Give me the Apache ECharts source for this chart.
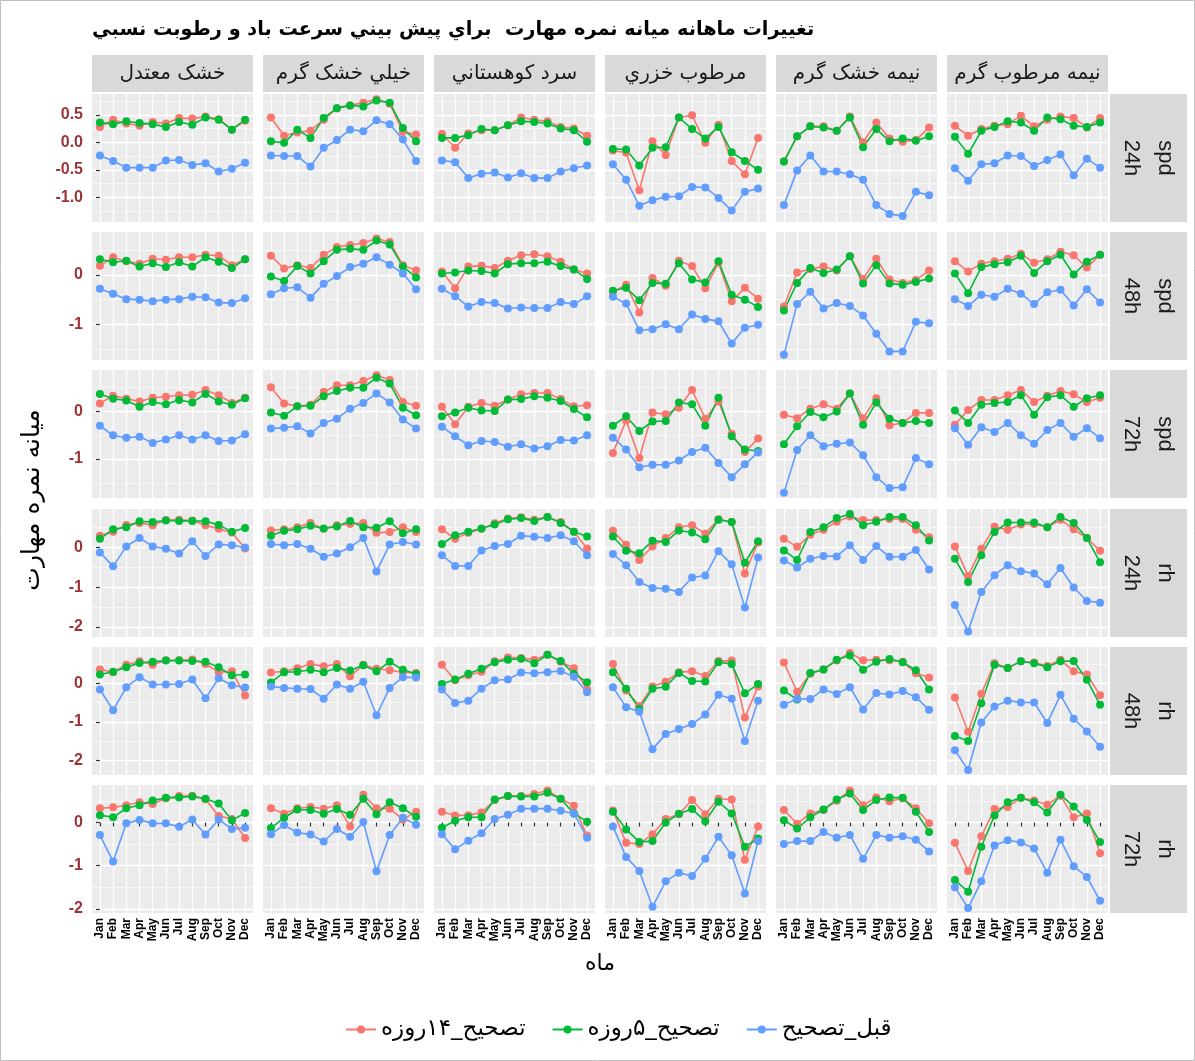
<!DOCTYPE html>
<html lang="fa">
<head>
  <meta charset="UTF-8" />
  <title>تغییرات ماهانه میانه نمره مهارت</title>
  <script src="https://cdn.jsdelivr.net/npm/echarts@6/dist/echarts.min.js"></script>
  <style>
    html, body { margin: 0; background: #fff; overflow: hidden; }
    #main { width: 1195px; height: 1061px; }
  </style>
</head>
<body>
  <div id="main"></div>
  <script>
    const months = ['Jan', 'Feb', 'Mar', 'Apr', 'May', 'Jun', 'Jul', 'Aug', 'Sep', 'Oct', 'Nov', 'Dec'];
    const regions = ['خشک معتدل', 'خيلي خشک گرم', 'سرد کوهستاني', 'مرطوب خزري', 'نيمه خشک گرم', 'نيمه مرطوب گرم'];
    const leadTimes = ['24h', '48h', '72h', '24h', '48h', '72h'];
    const variables = ['spd', 'spd', 'spd', 'rh', 'rh', 'rh'];
    const seriesNames = ['تصحیح_۱۴روزه', 'تصحیح_۵روزه', 'قبل_تصحیح'];

    // y tick labels per facet row
    const majorTicks = [[0.5, 0, -0.5, -1], [0, -1], [0, -1], [0, -1, -2], [0, -1, -2], [0, -1, -2]];
    const minorTicks = [[0.75, 0.25, -0.25, -0.75, -1.25], [0.5, -0.5, -1.5], [0.5, -0.5, -1.5],
                        [0.5, -0.5, -1.5], [0.5, -0.5, -1.5], [0.5, -0.5, -1.5]];

    // ---- spd 24h ----
    const spd24_c14 = [
      [0.28, 0.41, 0.34, 0.30, 0.37, 0.34, 0.44, 0.43, 0.47, 0.42, 0.23, 0.39],
      [0.45, 0.12, 0.18, 0.21, 0.41, 0.62, 0.67, 0.72, 0.78, 0.70, 0.19, 0.14],
      [0.15, -0.10, 0.16, 0.22, 0.22, 0.31, 0.45, 0.41, 0.38, 0.28, 0.25, 0.12],
      [-0.15, -0.19, -0.87, 0.02, -0.23, 0.45, 0.49, -0.01, 0.32, -0.34, -0.58, 0.08],
      [-0.35, 0.11, 0.29, 0.29, 0.21, 0.47, 0.00, 0.36, 0.07, 0.01, 0.04, 0.27],
      [0.30, 0.12, 0.24, 0.30, 0.33, 0.48, 0.29, 0.41, 0.47, 0.44, 0.27, 0.44]
    ];
    const spd24_c5 = [
      [0.36, 0.33, 0.38, 0.35, 0.33, 0.28, 0.37, 0.32, 0.45, 0.41, 0.23, 0.41],
      [0.02, -0.01, 0.23, 0.08, 0.44, 0.62, 0.67, 0.65, 0.76, 0.72, 0.26, 0.02],
      [0.08, 0.08, 0.13, 0.24, 0.22, 0.31, 0.38, 0.37, 0.34, 0.25, 0.22, 0.01],
      [-0.12, -0.13, -0.42, -0.10, -0.09, 0.45, 0.24, 0.07, 0.28, -0.18, -0.34, -0.50],
      [-0.35, 0.11, 0.29, 0.27, 0.21, 0.45, -0.09, 0.24, 0.02, 0.07, 0.03, 0.11],
      [0.10, -0.21, 0.21, 0.28, 0.38, 0.36, 0.21, 0.45, 0.42, 0.30, 0.28, 0.36]
    ];
    const spd24_raw = [
      [-0.24, -0.34, -0.46, -0.46, -0.46, -0.33, -0.32, -0.41, -0.38, -0.53, -0.48, -0.37],
      [-0.24, -0.25, -0.25, -0.44, -0.10, 0.04, 0.23, 0.20, 0.40, 0.33, 0.05, -0.34],
      [-0.33, -0.36, -0.65, -0.57, -0.55, -0.64, -0.56, -0.65, -0.65, -0.53, -0.47, -0.42],
      [-0.40, -0.68, -1.15, -1.05, -0.99, -0.98, -0.81, -0.82, -1.01, -1.24, -0.90, -0.84],
      [-1.14, -0.51, -0.24, -0.53, -0.53, -0.58, -0.68, -1.14, -1.30, -1.34, -0.90, -0.96],
      [-0.47, -0.70, -0.40, -0.38, -0.24, -0.25, -0.43, -0.32, -0.22, -0.60, -0.30, -0.46]
    ];

    // ---- spd 48h ----
    const spd48_c14 = [
      [0.19, 0.36, 0.28, 0.23, 0.33, 0.31, 0.36, 0.36, 0.41, 0.39, 0.20, 0.32],
      [0.39, 0.13, 0.20, 0.14, 0.41, 0.57, 0.61, 0.65, 0.74, 0.67, 0.20, 0.09],
      [0.07, -0.27, 0.17, 0.19, 0.14, 0.29, 0.40, 0.42, 0.38, 0.27, 0.11, 0.03],
      [-0.34, -0.20, -0.76, -0.06, -0.22, 0.29, 0.18, -0.27, 0.25, -0.53, -0.26, -0.48],
      [-0.64, 0.05, 0.12, 0.17, 0.09, 0.38, -0.08, 0.33, -0.09, -0.16, -0.10, 0.09],
      [0.28, 0.07, 0.23, 0.28, 0.33, 0.43, 0.25, 0.32, 0.47, 0.40, 0.15, 0.41]
    ];
    const spd48_c5 = [
      [0.32, 0.26, 0.29, 0.17, 0.24, 0.16, 0.26, 0.17, 0.36, 0.27, 0.14, 0.32],
      [-0.03, -0.12, 0.18, 0.03, 0.28, 0.51, 0.53, 0.51, 0.70, 0.62, 0.17, -0.05],
      [0.03, 0.05, 0.09, 0.08, 0.03, 0.22, 0.24, 0.24, 0.27, 0.18, 0.11, -0.08],
      [-0.32, -0.26, -0.51, -0.16, -0.18, 0.24, -0.09, -0.15, 0.28, -0.40, -0.50, -0.65],
      [-0.72, -0.16, 0.14, 0.04, 0.11, 0.38, -0.17, 0.20, -0.17, -0.20, -0.14, -0.07],
      [0.03, -0.37, 0.16, 0.22, 0.26, 0.39, 0.04, 0.28, 0.41, 0.01, 0.27, 0.41]
    ];
    const spd48_raw = [
      [-0.28, -0.38, -0.49, -0.50, -0.53, -0.50, -0.49, -0.44, -0.45, -0.56, -0.57, -0.47],
      [-0.39, -0.27, -0.25, -0.46, -0.18, -0.02, 0.16, 0.23, 0.36, 0.21, 0.03, -0.29],
      [-0.28, -0.43, -0.64, -0.55, -0.57, -0.68, -0.66, -0.67, -0.67, -0.55, -0.59, -0.43],
      [-0.44, -0.58, -1.12, -1.10, -1.00, -1.10, -0.80, -0.89, -0.94, -1.39, -1.07, -1.01],
      [-1.62, -0.59, -0.34, -0.68, -0.57, -0.63, -0.82, -1.19, -1.55, -1.55, -0.95, -0.98],
      [-0.49, -0.63, -0.40, -0.44, -0.28, -0.38, -0.59, -0.35, -0.30, -0.62, -0.29, -0.56]
    ];

    // ---- spd 72h ----
    const spd72_c14 = [
      [0.17, 0.33, 0.27, 0.21, 0.29, 0.31, 0.34, 0.35, 0.45, 0.34, 0.18, 0.29],
      [0.51, 0.17, 0.11, 0.14, 0.41, 0.55, 0.55, 0.64, 0.76, 0.66, 0.20, 0.12],
      [0.10, -0.27, 0.10, 0.18, 0.12, 0.25, 0.36, 0.39, 0.39, 0.26, 0.11, 0.13],
      [-0.87, -0.19, -0.98, -0.02, -0.06, 0.08, 0.45, -0.15, 0.21, -0.47, -0.85, -0.57],
      [-0.07, -0.14, 0.06, 0.15, 0.06, 0.38, -0.14, 0.28, -0.29, -0.24, -0.03, -0.03],
      [-0.28, 0.03, 0.24, 0.24, 0.34, 0.45, 0.20, 0.33, 0.43, 0.36, 0.20, 0.29]
    ];
    const spd72_c5 = [
      [0.37, 0.27, 0.23, 0.10, 0.20, 0.15, 0.24, 0.19, 0.37, 0.21, 0.14, 0.28],
      [-0.02, -0.09, 0.11, 0.12, 0.32, 0.43, 0.50, 0.50, 0.71, 0.59, 0.08, -0.08],
      [-0.10, -0.02, 0.08, 0.02, 0.01, 0.25, 0.26, 0.32, 0.29, 0.22, 0.05, -0.12],
      [-0.30, -0.10, -0.41, -0.21, -0.20, 0.19, 0.15, -0.30, 0.29, -0.52, -0.80, -0.83],
      [-0.69, -0.31, -0.01, -0.12, 0.00, 0.38, -0.28, 0.19, -0.15, -0.24, -0.20, -0.24],
      [0.02, -0.24, 0.14, 0.18, 0.20, 0.34, -0.07, 0.30, 0.34, 0.10, 0.28, 0.34]
    ];
    const spd72_raw = [
      [-0.30, -0.50, -0.55, -0.53, -0.66, -0.59, -0.50, -0.59, -0.50, -0.62, -0.61, -0.48],
      [-0.36, -0.34, -0.31, -0.46, -0.24, -0.15, 0.06, 0.18, 0.38, 0.19, -0.17, -0.36],
      [-0.32, -0.52, -0.71, -0.62, -0.64, -0.74, -0.69, -0.78, -0.73, -0.60, -0.61, -0.50],
      [-0.55, -0.80, -1.17, -1.12, -1.12, -1.03, -0.85, -0.76, -1.08, -1.38, -1.11, -0.86],
      [-1.71, -0.81, -0.50, -0.73, -0.68, -0.65, -0.92, -1.38, -1.61, -1.59, -0.98, -1.11],
      [-0.35, -0.70, -0.33, -0.43, -0.24, -0.50, -0.68, -0.39, -0.24, -0.53, -0.35, -0.56]
    ];

    // ---- rh 24h ----
    const rh24_c14 = [
      [0.29, 0.39, 0.56, 0.61, 0.55, 0.68, 0.69, 0.67, 0.55, 0.46, 0.37, -0.03],
      [0.42, 0.45, 0.50, 0.61, 0.46, 0.55, 0.58, 0.61, 0.36, 0.38, 0.50, 0.38],
      [0.45, 0.21, 0.36, 0.46, 0.60, 0.72, 0.75, 0.69, 0.76, 0.63, 0.39, -0.03],
      [0.41, 0.06, -0.32, 0.02, 0.23, 0.50, 0.55, 0.34, 0.70, 0.63, -0.66, 0.12],
      [0.21, 0.01, 0.31, 0.44, 0.64, 0.77, 0.68, 0.68, 0.71, 0.71, 0.44, 0.25],
      [0.02, -0.72, -0.04, 0.51, 0.44, 0.57, 0.58, 0.50, 0.69, 0.45, 0.23, -0.09]
    ];
    const rh24_c5 = [
      [0.21, 0.45, 0.50, 0.65, 0.63, 0.67, 0.66, 0.66, 0.65, 0.56, 0.39, 0.48],
      [0.29, 0.41, 0.45, 0.54, 0.47, 0.52, 0.66, 0.50, 0.49, 0.65, 0.35, 0.45],
      [0.08, 0.30, 0.39, 0.47, 0.57, 0.70, 0.73, 0.66, 0.76, 0.61, 0.39, 0.27],
      [0.27, -0.09, -0.15, 0.16, 0.13, 0.42, 0.37, 0.20, 0.69, 0.63, -0.39, 0.15],
      [-0.08, -0.32, 0.38, 0.50, 0.73, 0.83, 0.55, 0.64, 0.76, 0.76, 0.55, 0.17],
      [-0.29, -0.87, -0.20, 0.38, 0.62, 0.62, 0.62, 0.50, 0.76, 0.61, 0.23, -0.38]
    ];
    const rh24_raw = [
      [-0.13, -0.48, 0.02, 0.23, 0.02, -0.04, -0.16, 0.15, -0.22, 0.07, 0.05, -0.01],
      [0.08, 0.05, 0.08, -0.04, -0.24, -0.16, 0.00, 0.23, -0.61, 0.07, 0.13, 0.07],
      [-0.20, -0.47, -0.47, -0.08, 0.03, 0.08, 0.29, 0.26, 0.23, 0.30, 0.15, -0.20],
      [-0.17, -0.45, -0.87, -1.02, -1.04, -1.12, -0.76, -0.71, -0.10, -0.43, -1.51, -0.26],
      [-0.33, -0.51, -0.29, -0.22, -0.23, 0.05, -0.32, 0.03, -0.24, -0.24, -0.07, -0.56],
      [-1.45, -2.11, -1.12, -0.70, -0.45, -0.60, -0.66, -0.93, -0.52, -1.01, -1.35, -1.39]
    ];

    // ---- rh 48h ----
    const rh48_c14 = [
      [0.36, 0.29, 0.48, 0.57, 0.48, 0.60, 0.60, 0.62, 0.50, 0.29, 0.31, -0.32],
      [0.28, 0.31, 0.39, 0.50, 0.44, 0.50, 0.18, 0.48, 0.38, 0.34, 0.29, 0.27],
      [0.48, 0.08, 0.21, 0.30, 0.57, 0.67, 0.66, 0.61, 0.74, 0.56, 0.39, -0.16],
      [0.50, -0.19, -0.59, -0.08, 0.04, 0.29, 0.31, 0.19, 0.58, 0.59, -0.89, -0.08],
      [0.54, -0.22, 0.25, 0.36, 0.59, 0.79, 0.60, 0.61, 0.60, 0.56, 0.26, 0.15],
      [-0.37, -1.26, -0.27, 0.52, 0.40, 0.57, 0.54, 0.45, 0.61, 0.31, 0.23, -0.31]
    ];
    const rh48_c5 = [
      [0.23, 0.30, 0.42, 0.53, 0.56, 0.59, 0.59, 0.58, 0.56, 0.42, 0.21, 0.23],
      [0.02, 0.29, 0.30, 0.35, 0.29, 0.40, 0.33, 0.47, 0.31, 0.56, 0.35, 0.24],
      [-0.02, 0.10, 0.25, 0.38, 0.55, 0.61, 0.64, 0.52, 0.74, 0.58, 0.25, 0.03],
      [0.29, -0.14, -0.66, -0.14, -0.09, 0.27, 0.06, 0.05, 0.55, 0.50, -0.26, -0.02],
      [-0.19, -0.42, 0.27, 0.36, 0.61, 0.72, 0.35, 0.56, 0.63, 0.55, 0.34, -0.16],
      [-1.37, -1.50, -0.52, 0.48, 0.40, 0.57, 0.52, 0.42, 0.57, 0.58, 0.09, -0.56]
    ];
    const rh48_raw = [
      [-0.16, -0.70, -0.10, 0.16, -0.03, -0.03, -0.02, 0.10, -0.39, 0.13, -0.05, -0.11],
      [-0.08, -0.12, -0.14, -0.15, -0.40, -0.03, -0.14, 0.04, -0.83, -0.12, 0.16, 0.15],
      [-0.16, -0.51, -0.45, -0.14, 0.08, 0.10, 0.28, 0.26, 0.29, 0.32, 0.17, -0.23],
      [-0.10, -0.62, -0.74, -1.71, -1.32, -1.19, -1.06, -0.81, -0.30, -0.40, -1.50, -0.45],
      [-0.56, -0.40, -0.41, -0.16, -0.28, -0.10, -0.68, -0.25, -0.29, -0.20, -0.36, -0.69],
      [-1.74, -2.25, -1.02, -0.60, -0.45, -0.50, -0.50, -1.03, -0.30, -0.92, -1.25, -1.65]
    ];

    // ---- rh 72h ----
    const rh72_c14 = [
      [0.33, 0.35, 0.40, 0.47, 0.43, 0.56, 0.61, 0.62, 0.54, 0.15, 0.08, -0.36],
      [0.33, 0.20, 0.33, 0.36, 0.32, 0.40, -0.09, 0.64, 0.33, 0.32, 0.07, 0.25],
      [0.25, 0.16, 0.17, 0.23, 0.52, 0.61, 0.61, 0.66, 0.74, 0.55, 0.39, -0.30],
      [0.28, -0.47, -0.50, -0.27, 0.08, 0.19, 0.52, 0.19, 0.55, 0.53, -0.86, -0.09],
      [0.29, -0.03, 0.21, 0.29, 0.50, 0.74, 0.40, 0.58, 0.49, 0.56, 0.33, -0.02],
      [-0.47, -1.12, -0.32, 0.31, 0.36, 0.57, 0.51, 0.41, 0.62, 0.12, 0.21, -0.71]
    ];
    const rh72_c5 = [
      [0.17, 0.12, 0.33, 0.40, 0.51, 0.57, 0.58, 0.60, 0.55, 0.44, 0.05, 0.22],
      [-0.13, 0.11, 0.30, 0.29, 0.20, 0.31, 0.18, 0.55, 0.19, 0.47, 0.33, 0.13],
      [-0.12, 0.04, 0.12, 0.12, 0.53, 0.61, 0.60, 0.60, 0.69, 0.55, 0.21, 0.02],
      [0.25, -0.16, -0.45, -0.43, 0.00, 0.20, 0.31, 0.03, 0.48, 0.21, -0.56, -0.37],
      [0.05, -0.14, 0.12, 0.30, 0.53, 0.67, 0.29, 0.52, 0.58, 0.57, 0.25, -0.22],
      [-1.33, -1.60, -0.56, 0.16, 0.47, 0.57, 0.47, 0.23, 0.64, 0.37, 0.06, -0.45]
    ];
    const rh72_raw = [
      [-0.29, -0.90, -0.02, 0.06, -0.02, -0.02, -0.10, 0.07, -0.28, 0.07, -0.15, -0.12],
      [-0.27, -0.06, -0.23, -0.28, -0.44, -0.15, -0.33, 0.01, -1.13, -0.29, 0.11, -0.05],
      [-0.27, -0.62, -0.42, -0.25, 0.08, 0.18, 0.32, 0.32, 0.32, 0.27, 0.21, -0.35],
      [-0.09, -0.80, -1.12, -1.95, -1.36, -1.16, -1.24, -0.84, -0.33, -0.76, -1.64, -0.43],
      [-0.50, -0.43, -0.43, -0.22, -0.35, -0.29, -0.84, -0.29, -0.35, -0.32, -0.40, -0.67],
      [-1.50, -1.98, -1.36, -0.53, -0.41, -0.46, -0.60, -1.16, -0.40, -1.01, -1.26, -1.81]
    ];

    const rowData = [
      [spd24_c14, spd24_c5, spd24_raw],
      [spd48_c14, spd48_c5, spd48_raw],
      [spd72_c14, spd72_c5, spd72_raw],
      [rh24_c14, rh24_c5, rh24_raw],
      [rh48_c14, rh48_c5, rh48_raw],
      [rh72_c14, rh72_c5, rh72_raw]
    ];

    // layout
    const colors = ['#F8766D', '#00BA38', '#619CFF'];
    const colLeft = [92, 263, 434, 605, 776, 947];
    const rowTop = [94, 232, 370, 509, 647, 785];
    const panelW = 161, panelH = 128;
    const yRange = [[-1.447, 0.877], [-1.724, 0.872], [-1.818, 0.872], [-2.251, 0.958], [-2.382, 0.943], [-2.093, 0.867]];
    const monthIdx = months.map((m, i) => i);
    const latin = '"Liberation Sans", Arial, "DejaVu Sans", sans-serif';

    const grids = [], xAxes = [], yAxes = [], minorAxes = [], series = [], graphics = [];

    for (let r = 0; r < 6; r++) {
      for (let c = 0; c < 6; c++) {
        const gi = r * 6 + c;
        grids.push({
          left: colLeft[c], top: rowTop[r], width: panelW, height: panelH,
          show: true, backgroundColor: '#EBEBEB', borderWidth: 0
        });
        xAxes.push({
          type: 'value', gridIndex: gi, min: -0.6, max: 11.6,
          axisLine: { show: false },
          axisTick: { show: r === 5, customValues: monthIdx, length: 4, lineStyle: { color: '#333', width: 1.2 } },
          axisLabel: {
            show: r === 5, customValues: monthIdx, formatter: v => months[Math.round(v)],
            rotate: 90, fontSize: 12, fontWeight: 'bold', color: '#000', margin: 5, fontFamily: latin
          },
          splitLine: { show: true, lineStyle: { color: '#fff', width: 1.3 } }
        });
        yAxes.push({
          type: 'value', gridIndex: gi, min: yRange[r][0], max: yRange[r][1],
          axisLine: { show: false },
          axisTick: { show: c === 0, customValues: majorTicks[r], length: 4, lineStyle: { color: '#333', width: 1.2 } },
          axisLabel: {
            show: c === 0, customValues: majorTicks[r],
            formatter: v => (r === 0 ? v.toFixed(1) : String(Math.round(v))),
            fontSize: 16, fontWeight: 'bold', color: '#9B3535', margin: 9, fontFamily: latin
          },
          splitLine: { show: true, lineStyle: { color: '#fff', width: 1.3 } }
        });
        minorAxes.push({
          type: 'value', gridIndex: gi, min: yRange[r][0], max: yRange[r][1], position: 'left',
          axisLine: { show: false },
          axisTick: { show: false, customValues: minorTicks[r] },
          axisLabel: { show: false, customValues: minorTicks[r] },
          splitLine: { show: true, lineStyle: { color: '#fff', width: 0.6 } }
        });
        for (let s = 0; s < 3; s++) {
          series.push({
            type: 'line', name: seriesNames[s], xAxisIndex: gi, yAxisIndex: gi,
            data: rowData[r][s][c].map((v, i) => [i, v]),
            symbol: 'circle', symbolSize: 8,
            lineStyle: { color: colors[s], width: 1.6 },
            itemStyle: { color: colors[s] },
            silent: true, animation: false
          });
        }
      }
    }

    // top strips
    for (let c = 0; c < 6; c++) {
      graphics.push({
        type: 'rect', shape: { x: colLeft[c], y: 55, width: panelW, height: 37 },
        style: { fill: '#D9D9D9' }, silent: true
      });
      graphics.push({
        type: 'text', x: colLeft[c] + panelW / 2, y: 74,
        style: { text: regions[c], fill: '#1A1A1A', font: '20px "DejaVu Sans", sans-serif',
                 textAlign: 'center', textVerticalAlign: 'middle', align: 'center', verticalAlign: 'middle' },
        silent: true
      });
    }
    // right strips
    for (let r = 0; r < 6; r++) {
      graphics.push({
        type: 'rect', shape: { x: 1110, y: rowTop[r], width: 77, height: panelH },
        style: { fill: '#D9D9D9' }, silent: true
      });
      [[1131, leadTimes[r]], [1165, variables[r]]].forEach(([x, t]) => {
        graphics.push({
          type: 'text', x: x, y: rowTop[r] + panelH / 2, rotation: -Math.PI / 2,
          style: { text: t, fill: '#1A1A1A', font: '22px ' + latin,
                   textAlign: 'center', textVerticalAlign: 'middle', align: 'center', verticalAlign: 'middle' },
          silent: true
        });
      });
    }
    // titles
    graphics.push({
      type: 'text', x: 92, y: 30,
      style: { text: 'تغییرات ماهانه میانه نمره مهارت  براي پيش بيني سرعت باد و رطوبت نسبي',
               fill: '#000', font: 'bold 19.3px "DejaVu Sans", sans-serif',
               textAlign: 'left', textVerticalAlign: 'middle', align: 'left', verticalAlign: 'middle' },
      silent: true
    });
    graphics.push({
      type: 'text', x: 32, y: 500, rotation: Math.PI / 2,
      style: { text: 'میانه نمره مهارت', fill: '#000', font: '25px "DejaVu Sans", sans-serif',
               textAlign: 'center', textVerticalAlign: 'middle', align: 'center', verticalAlign: 'middle' },
      silent: true
    });
    graphics.push({
      type: 'text', x: 600, y: 964,
      style: { text: 'ماه', fill: '#000', font: '22px "DejaVu Sans", sans-serif',
               textAlign: 'center', textVerticalAlign: 'middle', align: 'center', verticalAlign: 'middle' },
      silent: true
    });
    graphics.push({
      type: 'rect', shape: { x: 0.5, y: 0.5, width: 1194, height: 1060 },
      style: { fill: 'none', stroke: '#BFBFBF', lineWidth: 1 }, silent: true
    });

    const chart = echarts.init(document.getElementById('main'), null, { renderer: 'canvas' });
    chart.setOption({
      backgroundColor: '#fff',
      animation: false,
      grid: grids,
      xAxis: xAxes,
      yAxis: yAxes.concat(minorAxes),
      series: series,
      legend: {
        data: seriesNames,
        bottom: 15, left: 340,
        itemWidth: 30, itemHeight: 10, itemGap: 26,
        textStyle: { fontSize: 23, color: '#000', fontFamily: '"DejaVu Sans", sans-serif' }
      },
      graphic: { elements: graphics }
    });
  </script>
</body>
</html>
